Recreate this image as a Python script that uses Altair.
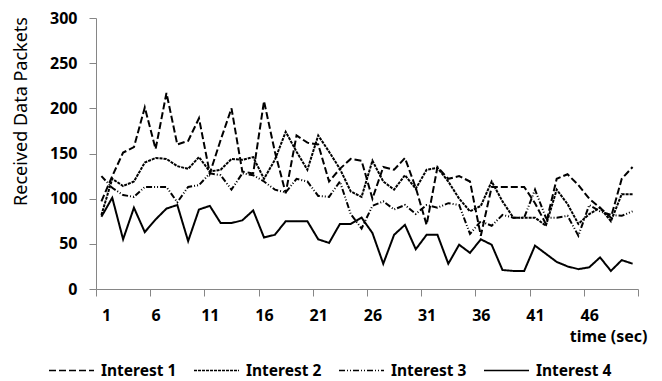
import altair as alt
import pandas as pd

time = list(range(1, 51))
series_names = ["Interest 1", "Interest 2", "Interest 3", "Interest 4"]

interest1 = [97, 125, 151, 157, 201, 155, 217, 160, 164, 189,
             128, 165, 200, 130, 128, 208, 152, 106, 170, 162,
             160, 119, 133, 144, 142, 100, 135, 132, 145, 112,
             71, 135, 122, 125, 119, 59, 113, 113, 113, 113,
             95, 72, 122, 127, 115, 100, 90, 79, 122, 135]
interest2 = [82, 122, 114, 119, 140, 145, 144, 136, 133, 146,
             130, 132, 144, 143, 146, 122, 143, 174, 152, 132,
             170, 152, 133, 108, 102, 142, 119, 110, 126, 111,
             132, 134, 119, 100, 86, 92, 119, 97, 79, 79,
             79, 70, 110, 94, 72, 83, 90, 75, 105, 105]
interest3 = [125, 112, 104, 102, 113, 113, 113, 96, 113, 115,
             128, 126, 110, 128, 126, 119, 110, 107, 122, 119,
             103, 102, 119, 83, 67, 92, 97, 88, 93, 83,
             93, 90, 95, 93, 61, 75, 70, 82, 79, 79,
             110, 79, 79, 81, 59, 93, 86, 82, 81, 86]
interest4 = [80, 101, 55, 90, 63, 77, 89, 93, 53, 88,
             92, 73, 73, 76, 87, 57, 60, 75, 75, 75,
             55, 51, 72, 72, 79, 62, 28, 60, 71, 44,
             60, 60, 28, 49, 40, 55, 49, 21, 20, 20,
             48, 39, 30, 25, 22, 24, 35, 20, 32, 28]

y_ticks = [0, 50, 100, 150, 200, 250, 300]
x_tick_edges = [0.5 + 5 * k for k in range(11)]

rows = []
for name, vals in zip(series_names, [interest1, interest2, interest3, interest4]):
    for t, v in zip(time, vals):
        rows.append({"time": t, "value": v, "series": name})
df = pd.DataFrame(rows)

dash_patterns = [[7, 3], [3, 1], [6, 2, 1, 2, 1, 2], [1, 0]]
FONT = "Noto Sans"
AXIS_GREY = "#868686"

chart = alt.Chart(df).mark_line(color="black", strokeWidth=2).encode(
    x=alt.X(
        "time:Q",
        scale=alt.Scale(domain=[0.5, 50.5], nice=False, zero=False),
        axis=alt.Axis(
            values=x_tick_edges,
            labelExpr="datum.value < 50 ? toString(datum.value + 0.5) : ''",
            labelOffset=5.4,
            grid=False,
            domainColor=AXIS_GREY,
            tickColor=AXIS_GREY,
            tickSize=7,
            labelPadding=11,
            labelFontSize=16,
            labelFontWeight="bold",
            labelFont=FONT,
            labelColor="black",
            title="time (sec)",
            titleFont=FONT,
            titleFontSize=16,
            titleFontWeight="bold",
            titleColor="black",
            titleAnchor="end",
            titleAlign="right",
            titleBaseline="alphabetic",
            titleX=551,
            titleY=52,
        ),
    ),
    y=alt.Y(
        "value:Q",
        scale=alt.Scale(domain=[0, 300], nice=False),
        axis=alt.Axis(
            values=y_ticks,
            grid=False,
            domainColor=AXIS_GREY,
            tickColor=AXIS_GREY,
            tickSize=7,
            labelPadding=12,
            labelFontSize=16,
            labelFontWeight="bold",
            labelFont=FONT,
            labelColor="black",
            title="Received Data Packets",
            titleFont=FONT,
            titleFontSize=18,
            titleFontWeight="normal",
            titleColor="black",
            titleAngle=-90,
            titleAlign="center",
            titleBaseline="middle",
            titleX=-75,
            titleY=93,
        ),
    ),
    strokeDash=alt.StrokeDash(
        "series:N",
        scale=alt.Scale(domain=series_names, range=dash_patterns),
        legend=alt.Legend(
            title=None,
            orient="none",
            direction="horizontal",
            columns=4,
            legendX=-48,
            legendY=329,
            symbolType="stroke",
            symbolSize=2025,
            symbolStrokeWidth=1.5,
            symbolStrokeColor="black",
            labelFont=FONT,
            labelFontSize=15.5,
            labelFontWeight="bold",
            labelColor="black",
            labelOffset=6,
            columnPadding=14,
            padding=0,
        ),
    ),
    detail="series:N",
).properties(
    width=542,
    height=271,
    autosize=alt.AutoSizeParams(type="none"),
    padding={"left": 88, "top": 10, "right": 16, "bottom": 92},
).configure_view(stroke=None)

chart.save("out.html", embed_options={"renderer": "svg", "actions": False})
